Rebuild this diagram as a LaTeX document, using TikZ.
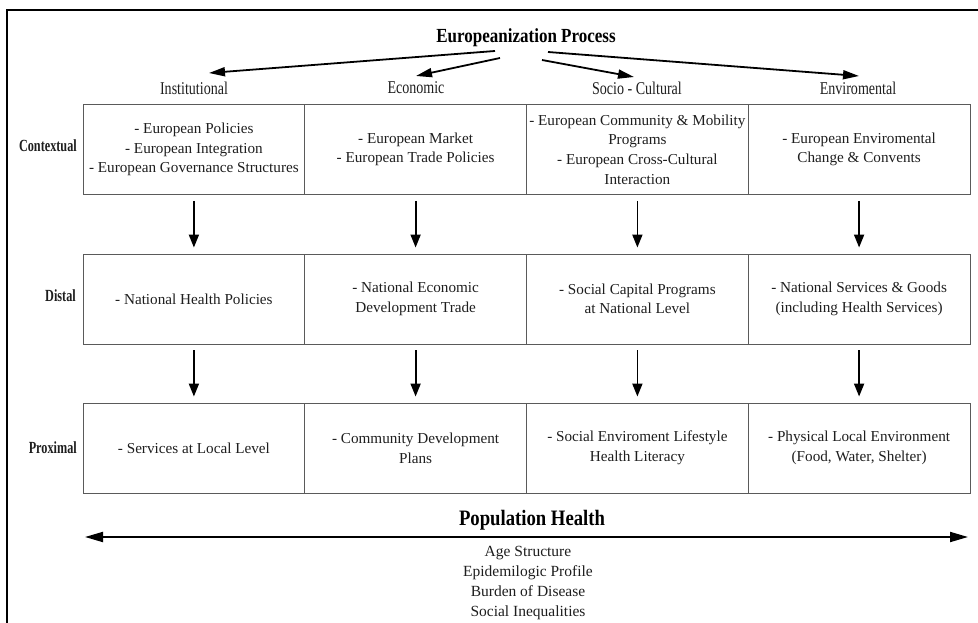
\documentclass[tikz,border=0pt]{standalone}
\usepackage{fontspec}
\setmainfont{Liberation Serif}
\newfontfamily\headfont[FakeStretch=0.85]{Liberation Serif}
\newfontfamily\catfont[FakeStretch=0.78]{Liberation Serif}
\newfontfamily\rowfont[FakeStretch=0.72]{Liberation Serif}
\usetikzlibrary{arrows.meta}
\definecolor{ink}{HTML}{1E1E1E}
\definecolor{rule}{HTML}{5A5A5A}
\tikzset{
  cell/.style={draw=rule, line width=0.9pt, minimum width=221.75pt, minimum height=90pt,
    inner sep=0pt, align=center, text=ink, font=\fontsize{15.2}{19.6}\selectfont},
  catlabel/.style={inner sep=0pt, text=ink, font=\catfont\fontsize{18}{20}\selectfont},
  rowlabel/.style={inner sep=0pt, anchor=east, text=ink, font=\rowfont\bfseries\fontsize{17}{19}\selectfont},
  toparrow/.style={line width=1.8pt, -{Triangle[length=16pt, width=9pt]}},
  downarrow/.style={line width=1.8pt, -{Triangle[length=13pt, width=10pt]}, shorten <=6pt, shorten >=6pt},
  spanarrow/.style={line width=1.9pt, {Triangle[length=18pt, width=10pt]}-{Triangle[length=18pt, width=10pt]}}
}
\begin{document}
\begin{tikzpicture}[x=1pt, y=-1pt]
\useasboundingbox (0,0) rectangle (978,623);

% outer frame
\draw[line width=1.8pt, black] (7,640) -- (7,10) -- (990,10);

% heading and the four dimensions
\node[inner sep=0pt, text=black, font=\headfont\bfseries\fontsize{20}{22}\selectfont] (title) at (526,38) {Europeanization Process};
\node[catlabel] (inst) at (194,88) {Institutional};
\node[catlabel] (econ) at (416,88) {Economic};
\node[catlabel] (socio) at (637,88) {Socio - Cultural};
\node[catlabel] (envi) at (858,88) {Enviromental};

% arrows from the heading to the dimensions
\coordinate (s1) at (495,51);
\coordinate (s2) at (500,58);
\coordinate (s3) at (542,60);
\coordinate (s4) at (548,52);
\coordinate (t1) at (209,73);
\coordinate (t2) at (416,76);
\coordinate (t3) at (634,77);
\coordinate (t4) at (859,76);
\draw[toparrow] (s1) -- (t1);
\draw[toparrow] (s2) -- (t2);
\draw[toparrow] (s3) -- (t3);
\draw[toparrow] (s4) -- (t4);

% row labels
\node[rowlabel] (lctx) at (77,146) {Contextual};
\node[rowlabel] (ldis) at (76,296) {Distal};
\node[rowlabel] (lpro) at (77,448) {Proximal};

% contextual level
\node[cell] (c11) at (193.9,149.5) {- European Policies\\- European Integration\\- European Governance Structures};
\node[cell] (c12) at (415.6,149.5) {- European Market\\- European Trade Policies};
\node[cell] (c13) at (637.4,149.5) {- European Community \& Mobility\\Programs\\- European Cross-Cultural\\Interaction};
\node[cell] (c14) at (859.1,149.5) {- European Enviromental\\Change \& Convents};

% distal level
\node[cell] (c21) at (193.9,299) {- National Health Policies};
\node[cell] (c22) at (415.6,299) {- National Economic\\Development Trade};
\node[cell] (c23) at (637.4,299) {- Social Capital Programs\\at National Level};
\node[cell] (c24) at (859.1,299) {- National Services \& Goods\\(including Health Services)};

% proximal level
\node[cell] (c31) at (193.9,448) {- Services at Local Level};
\node[cell] (c32) at (415.6,448) {- Community Development\\Plans};
\node[cell] (c33) at (637.4,448) {- Social Enviroment Lifestyle\\Health Literacy};
\node[cell] (c34) at (859.1,448) {- Physical Local Environment\\(Food, Water, Shelter)};

% downward links between levels
\foreach \c in {1,2,3,4}{
  \draw[downarrow] (c1\c) -- (c2\c);
  \draw[downarrow] (c2\c) -- (c3\c);
}

% population health
\node[inner sep=0pt, text=black, font=\headfont\bfseries\fontsize{22}{24}\selectfont] (pop) at (532,520) {Population Health};
\coordinate (pl) at (85,537);
\coordinate (pr) at (968,537);
\draw[spanarrow] (pl) -- (pr);
\node[inner sep=0pt, align=center, text=ink, font=\fontsize{15.5}{19.7}\selectfont] (outcomes) at (528,583)
  {Age Structure\\Epidemilogic Profile\\Burden of Disease\\Social Inequalities};
\end{tikzpicture}
\end{document}
